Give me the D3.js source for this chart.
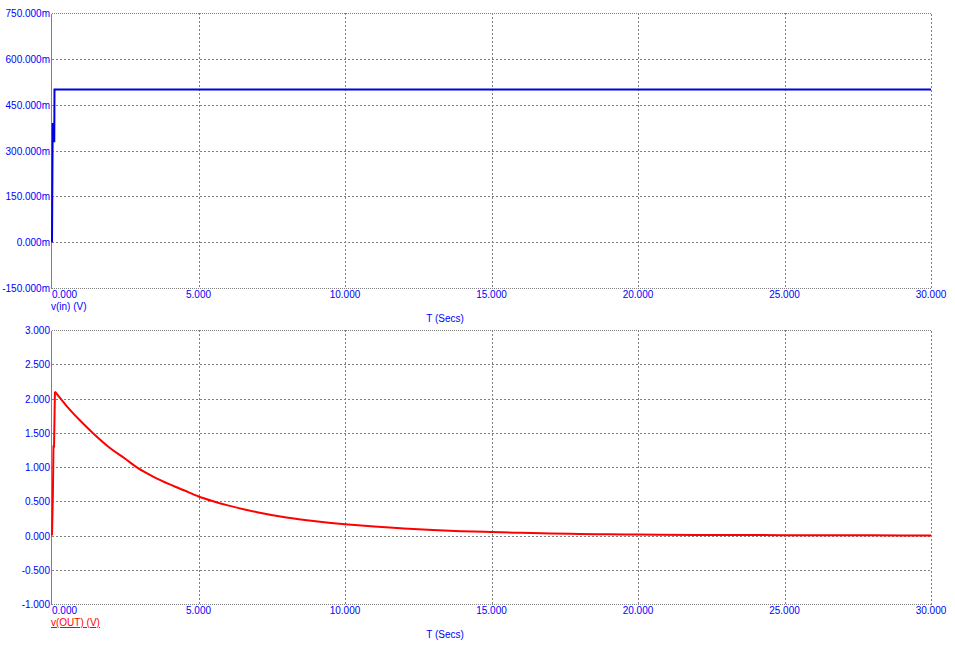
<!DOCTYPE html>
<html><head><meta charset="utf-8">
<script src="https://cdn.jsdelivr.net/npm/d3@7/dist/d3.min.js"></script>
<style>body{margin:0;background:#fff}svg{display:block}text{font-family:"Liberation Sans",Arial,sans-serif}</style>
</head><body>
<script>
// Time axis ticks (seconds)
const xTicks = [0, 5, 10, 15, 20, 25, 30];
const xTickLabels = ["0.000", "5.000", "10.000", "15.000", "20.000", "25.000", "30.000"];

// Top panel: v(in) in volts
const vinTicks = [-0.15, 0, 0.15, 0.3, 0.45, 0.6, 0.75];
const vinTickLabels = ["-150.000m", "0.000m", "150.000m", "300.000m", "450.000m", "600.000m", "750.000m"];
const vinT = [0, 0.024, 0.05, 0.078, 0.085, 30];
const vinV = [0, 0.39, 0.33, 0.33, 0.5, 0.5];

// Bottom panel: v(OUT) in volts — rising edge then decay
const voutRiseT = [0, 0.03, 0.05, 0.07, 0.1];
const voutRiseV = [0, 0.6, 1.3, 1.3, 2.1];
const voutDecayT = [0.1, 0.5, 1, 1.41, 2, 2.5, 2.91, 3.5, 4, 4.5, 5, 5.5, 6, 7, 8, 9, 10, 11, 12, 13, 14, 15, 16, 17, 18, 19, 20, 22, 24, 26, 28, 30];
const voutDecayV = [2.1, 1.89, 1.66, 1.49, 1.27, 1.12, 0.99, 0.85, 0.75, 0.66, 0.57, 0.5, 0.44, 0.34, 0.263, 0.208, 0.165, 0.13, 0.103, 0.08, 0.063, 0.05, 0.039, 0.03, 0.023, 0.018, 0.014, 0.009, 0.006, 0.003, 0.002, 0.001];
const voutTicks = [-1, -0.5, 0, 0.5, 1, 1.5, 2, 2.5, 3];
const voutTickLabels = ["-1.000", "-0.500", "0.000", "0.500", "1.000", "1.500", "2.000", "2.500", "3.000"];

const W = 955, H = 652;
const svg = d3.select("body").append("svg").attr("width", W).attr("height", H);

const left = 52, right = 931;
const x = d3.scaleLinear().domain([0, 30]).range([left, right]);

function panel(opts) {
  const y = d3.scaleLinear().domain(opts.domain).range([opts.bottom, opts.top]);
  const g = svg.append("g");
  const inner = opts.ticks.slice(1, -1);
  g.selectAll(".hg").data(inner).join("line")
    .attr("x1", left).attr("x2", right)
    .attr("y1", d => Math.round(y(d)) + 0.5).attr("y2", d => Math.round(y(d)) + 0.5)
    .attr("stroke", "#808080").attr("stroke-dasharray", "2,2").attr("shape-rendering", "crispEdges");
  g.selectAll(".vg").data(xTicks.slice(1, -1)).join("line")
    .attr("y1", opts.top).attr("y2", opts.bottom)
    .attr("x1", d => Math.round(x(d)) + 0.5).attr("x2", d => Math.round(x(d)) + 0.5)
    .attr("stroke", "#808080").attr("stroke-dasharray", "2,2").attr("shape-rendering", "crispEdges");
  const t = Math.round(opts.top) + 0.5, b = Math.round(opts.bottom) + 0.5;
  g.append("line").attr("x1", left).attr("x2", right).attr("y1", t).attr("y2", t)
    .attr("stroke", "#808080").attr("stroke-dasharray", "1,1").attr("shape-rendering", "crispEdges");
  g.append("line").attr("x1", left).attr("x2", right + 1).attr("y1", b).attr("y2", b)
    .attr("stroke", "#808080").attr("stroke-dasharray", "1,1").attr("shape-rendering", "crispEdges");
  g.append("line").attr("x1", right + 0.5).attr("x2", right + 0.5).attr("y1", t).attr("y2", b)
    .attr("stroke", "#808080").attr("stroke-dasharray", "2,2").attr("shape-rendering", "crispEdges");
  g.append("line").attr("x1", left - 0.5).attr("x2", left - 0.5).attr("y1", t).attr("y2", b)
    .attr("stroke", "#808080").attr("shape-rendering", "crispEdges");
  g.selectAll(".yl").data(opts.ticks).join("text")
    .attr("x", 50).attr("y", d => y(d) + 4)
    .attr("text-anchor", "end").attr("font-size", 10).attr("fill", "#0000ff")
    .text((d, i) => opts.labels[i]);
  g.selectAll(".xl").data(xTicks).join("text")
    .attr("x", d => d === 0 ? left : x(d)).attr("y", opts.bottom + 10)
    .attr("text-anchor", d => d === 0 ? "start" : "middle")
    .attr("font-size", 10).attr("fill", "#0000ff")
    .text((d, i) => xTickLabels[i]);
  const sl = g.append("text").attr("x", 51).attr("y", opts.bottom + 22)
    .attr("font-size", 10).attr("fill", opts.labelColor).text(opts.label);
  if (opts.underline) sl.attr("text-decoration", "underline");
  g.append("text").attr("x", 445).attr("y", opts.bottom + 34)
    .attr("text-anchor", "middle").attr("font-size", 10).attr("fill", "#0000ff").text("T (Secs)");
  opts.segments.forEach(seg => {
    const pts = seg.t.map((tt, i) => [tt, seg.v[i]]);
    g.append("path").datum(pts)
      .attr("d", d3.line().x(d => x(d[0])).y(d => y(d[1])).curve(seg.curve))
      .attr("fill", "none").attr("stroke", opts.color).attr("stroke-width", 2)
      .attr("stroke-linejoin", "miter");
  });
}

panel({ top: 13, bottom: 288, domain: [-0.15, 0.75], ticks: vinTicks, labels: vinTickLabels,
  segments: [{ t: vinT, v: vinV, curve: d3.curveLinear }],
  color: "#0000e0", label: "v(in) (V)", labelColor: "#0000ff", underline: false });
panel({ top: 330, bottom: 604, domain: [-1, 3], ticks: voutTicks, labels: voutTickLabels,
  segments: [{ t: voutRiseT, v: voutRiseV, curve: d3.curveLinear },
             { t: voutDecayT, v: voutDecayV, curve: d3.curveMonotoneX }],
  color: "#ff0000", label: "v(OUT) (V)", labelColor: "#ff0000", underline: true });
</script>
</body></html>
